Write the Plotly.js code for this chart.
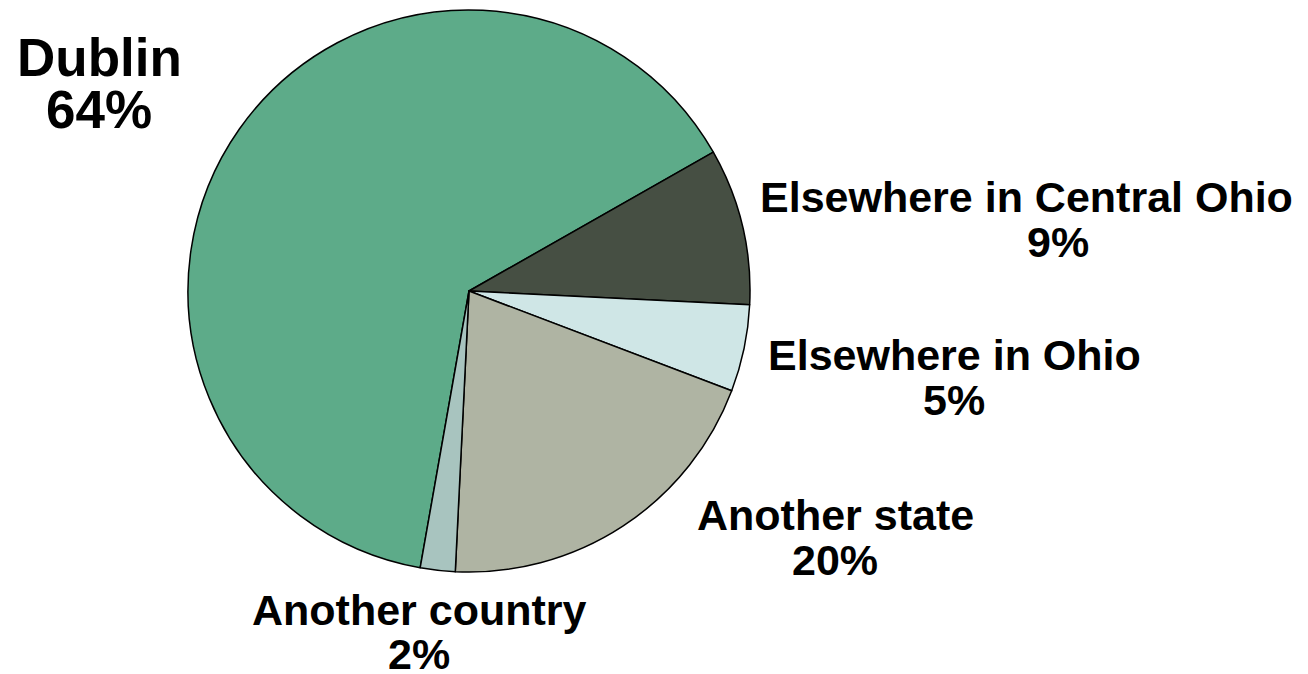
<!DOCTYPE html>
<html>
<head>
<meta charset="utf-8">
<script src="https://cdn.plot.ly/plotly-3.0.1.min.js"></script>
<style>html,body{margin:0;padding:0;background:#fff;}#chart{width:1308px;height:674px;}</style>
</head>
<body>
<div id="chart"></div>
<script>
const labels = ["Dublin", "Elsewhere in Central Ohio", "Elsewhere in Ohio", "Another state", "Another country"];
const values = [64, 9, 5, 20, 2];
const colors = ["#5dab89", "#464f43", "#cfe6e6", "#afb4a3", "#a8c4bf"];

const W = 1308, H = 674;
// label placement (pixel centres of name line and percent line)
const namePos = [[99, 58], [1026, 197], [954, 355], [835, 515], [419, 610]];
const pctPos  = [[99, 110], [1058, 242], [954, 400], [835, 560], [419, 654]];
const sizes = [53, 43, 43, 43, 43];

const annotations = [];
labels.forEach((lab, i) => {
  annotations.push({
    text: "<b>" + lab + "</b>", xref: "paper", yref: "paper",
    x: namePos[i][0] / W, y: 1 - namePos[i][1] / H,
    xanchor: "center", yanchor: "middle", showarrow: false,
    font: {family: "Liberation Sans, Arial, sans-serif", size: sizes[i], color: "#000"}
  });
  annotations.push({
    text: "<b>" + values[i] + "%</b>", xref: "paper", yref: "paper",
    x: pctPos[i][0] / W, y: 1 - pctPos[i][1] / H,
    xanchor: "center", yanchor: "middle", showarrow: false,
    font: {family: "Liberation Sans, Arial, sans-serif", size: sizes[i], color: "#000"}
  });
});

const data = [{
  type: "pie",
  labels: labels,
  values: values,
  sort: false,
  direction: "clockwise",
  rotation: 190,
  textinfo: "none",
  hoverinfo: "label+percent",
  marker: {colors: colors, line: {color: "#000", width: 1.5}},
  domain: {x: [188 / W, 750 / W], y: [(H - 572) / H, (H - 10) / H]},
  showlegend: false
}];

const layout = {
  width: W, height: H,
  margin: {l: 0, r: 0, t: 0, b: 0},
  paper_bgcolor: "#fff",
  showlegend: false,
  annotations: annotations
};

Plotly.newPlot("chart", data, layout, {displayModeBar: false, staticPlot: true});
</script>
</body>
</html>
